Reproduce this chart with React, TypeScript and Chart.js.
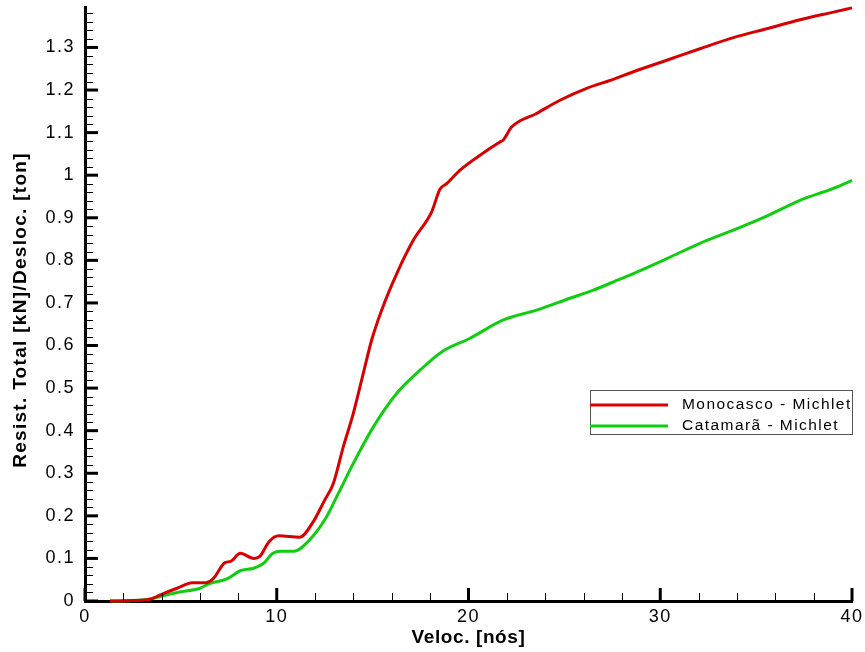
import React, { useEffect, useRef } from 'react';
import { Chart, registerables } from 'chart.js';

Chart.register(...registerables);

// ---- Data ----
const seriesLabels = ['Monocasco - Michlet', 'Catamarã - Michlet'];
const xTitle = 'Veloc. [nós]';
const yTitle = 'Resist. Total [kN]/Desloc. [ton]';

const monoSpeed = [1.3, 2.5, 3.4, 3.9, 4.8, 5.6, 6.3, 6.7, 7.3, 7.6, 8.1, 8.8, 9.1, 9.6, 10.1, 11.2, 11.9, 12.5, 12.95, 13.47, 13.99, 14.51, 14.95, 15.47, 16.26, 17.12, 18.08, 18.51, 18.86, 19.56, 20.6, 21.64, 21.8, 22.25, 23.55, 24.77, 26.16, 27.55, 28.6, 30.34, 32.07, 33.81, 35.55, 37.29, 39.03, 40];
const monoResist = [0, 0.001, 0.004, 0.014, 0.03, 0.043, 0.043, 0.053, 0.09, 0.093, 0.112, 0.1, 0.104, 0.139, 0.153, 0.15, 0.186, 0.237, 0.276, 0.362, 0.44, 0.534, 0.613, 0.683, 0.769, 0.847, 0.914, 0.967, 0.98, 1.012, 1.047, 1.078, 1.082, 1.113, 1.145, 1.176, 1.204, 1.225, 1.243, 1.27, 1.297, 1.323, 1.344, 1.365, 1.383, 1.393];

const cataSpeed = [1.3, 2.5, 3.4, 3.9, 4.8, 6.0, 6.5, 7.4, 8.1, 8.8, 9.3, 9.8, 10.2, 10.9, 11.7, 12.6, 13.04, 13.47, 13.82, 15.04, 16.26, 17.47, 18.6, 20.08, 21.82, 23.55, 25.29, 26.51, 27.9, 28.6, 30.34, 32.07, 33.81, 35.55, 37.29, 39.03, 40];
const cataResist = [0, 0.001, 0.005, 0.01, 0.02, 0.03, 0.041, 0.052, 0.071, 0.077, 0.088, 0.112, 0.117, 0.117, 0.143, 0.198, 0.237, 0.276, 0.308, 0.409, 0.488, 0.542, 0.585, 0.617, 0.66, 0.683, 0.711, 0.73, 0.756, 0.769, 0.804, 0.84, 0.871, 0.904, 0.941, 0.969, 0.988];

const xTickValues = [0, 10, 20, 30, 40];
const yTickValues = [0, 0.1, 0.2, 0.3, 0.4, 0.5, 0.6, 0.7, 0.8, 0.9, 1, 1.1, 1.2, 1.3];

const X_MIN = 0;
const X_MAX = 40;
const Y_MIN = 0;
const Y_MAX = 1.395;

const RED = '#d40000';
const GREEN = '#11cc11';
const FONT = '"Liberation Sans", Arial, Helvetica, sans-serif';

const toPoints = (xs: number[], ys: number[]) => xs.map((x, i) => ({ x, y: ys[i] }));

// Wider letter spacing for the scale tick labels (Tecplot-like text)
const tickSpacing = {
  id: 'tickSpacing',
  beforeDraw(chart: any) {
    chart.ctx.letterSpacing = '1.5px';
  },
  beforeDatasetsDraw(chart: any) {
    chart.ctx.letterSpacing = '0px';
  },
};

// Inward tick marks (major + minor)
const inwardTicks = {
  id: 'inwardTicks',
  afterDatasetsDraw(chart: any) {
    const { ctx, chartArea } = chart;
    const xs = chart.scales.x;
    const ys = chart.scales.y;
    ctx.save();
    ctx.strokeStyle = '#000';
    for (let i = 0; i <= 20; i++) {
      const v = X_MIN + i * 2;
      if (v > X_MAX + 1e-9) break;
      const major = i % 5 === 0;
      let px = xs.getPixelForValue(v);
      ctx.lineWidth = major ? 3 : 1;
      if (!major) px = Math.round(px) + 0.5;
      ctx.beginPath();
      ctx.moveTo(px, chartArea.bottom);
      ctx.lineTo(px, chartArea.bottom - (major ? 13 : 8));
      ctx.stroke();
    }
    for (let i = 0; i <= 100; i++) {
      const v = Y_MIN + i * 0.02;
      if (v > Y_MAX + 1e-9) break;
      const major = i % 5 === 0;
      let py = ys.getPixelForValue(v);
      ctx.lineWidth = major ? 3 : 1;
      if (!major) py = Math.round(py) + 0.5;
      ctx.beginPath();
      ctx.moveTo(chartArea.left, py);
      ctx.lineTo(chartArea.left + (major ? 13 : 8), py);
      ctx.stroke();
    }
    ctx.restore();
  },
};

// Axis titles and boxed legend
const annotations = {
  id: 'annotations',
  afterDraw(chart: any) {
    const { ctx, chartArea } = chart;
    ctx.save();
    ctx.fillStyle = '#000';
    ctx.textAlign = 'center';
    ctx.textBaseline = 'middle';
    // x title
    ctx.font = `bold 19px ${FONT}`;
    ctx.letterSpacing = '0.6px';
    ctx.fillText(xTitle, (chartArea.left + chartArea.right) / 2, 638);
    // y title
    ctx.save();
    ctx.translate(21, 310);
    ctx.rotate(-Math.PI / 2);
    ctx.font = `bold 19px ${FONT}`;
    ctx.letterSpacing = '1.3px';
    ctx.fillText(yTitle, 0, 0);
    ctx.restore();

    // legend
    const right = chartArea.right;
    const left = 590;
    const top = 390;
    const bottom = 434;
    ctx.strokeStyle = '#555';
    ctx.lineWidth = 1;
    ctx.strokeRect(left + 0.5, top + 0.5, right - left, bottom - top);
    const rowY = [405, 426];
    chart.data.datasets.forEach((ds: any, i: number) => {
      ctx.strokeStyle = ds.borderColor;
      ctx.lineWidth = 3;
      ctx.beginPath();
      ctx.moveTo(left, rowY[i]);
      ctx.lineTo(668, rowY[i]);
      ctx.stroke();
      ctx.fillStyle = '#000';
      ctx.font = `15.5px ${FONT}`;
      ctx.letterSpacing = '1.45px';
      ctx.textBaseline = 'middle';
      ctx.textAlign = 'left';
      ctx.fillText(ds.label, 682, rowY[i]);
    });
    ctx.restore();
  },
};

export default function App() {
  const canvasRef = useRef<HTMLCanvasElement | null>(null);

  useEffect(() => {
    const canvas = canvasRef.current;
    if (!canvas) return;
    const chart = new Chart(canvas, {
      type: 'line',
      data: {
        datasets: [
          {
            label: seriesLabels[0],
            data: toPoints(monoSpeed, monoResist),
            borderColor: RED,
            backgroundColor: RED,
            borderWidth: 3,
            pointRadius: 0,
            cubicInterpolationMode: 'monotone',
            clip: 6,
          },
          {
            label: seriesLabels[1],
            data: toPoints(cataSpeed, cataResist),
            borderColor: GREEN,
            backgroundColor: GREEN,
            borderWidth: 3,
            pointRadius: 0,
            cubicInterpolationMode: 'monotone',
            clip: 6,
          },
        ],
      },
      options: {
        responsive: false,
        animation: false,
        devicePixelRatio: 1,
        layout: { padding: { top: 7, right: 13, left: 0, bottom: 0 } },
        plugins: {
          legend: { display: false },
          tooltip: { enabled: false },
        },
        scales: {
          x: {
            type: 'linear',
            min: X_MIN,
            max: X_MAX,
            afterBuildTicks: (s: any) => {
              s.ticks = xTickValues.map((v) => ({ value: v }));
            },
            afterFit: (s: any) => {
              s.height = 51;
              s.paddingLeft = 0;
              s.paddingRight = 0;
            },
            grid: { display: false, drawTicks: false },
            border: { display: true, color: '#000', width: 3 },
            ticks: {
              color: '#000',
              font: { family: FONT, size: 18 },
              padding: 5,
              maxRotation: 0,
              autoSkip: false,
              callback: (v: any) => String(v),
            },
            title: { display: false },
          },
          y: {
            type: 'linear',
            min: Y_MIN,
            max: Y_MAX,
            afterBuildTicks: (s: any) => {
              s.ticks = yTickValues.map((v) => ({ value: v }));
            },
            afterFit: (s: any) => {
              s.width = 85;
              s.paddingTop = 0;
              s.paddingBottom = 0;
            },
            grid: { display: false, drawTicks: false },
            border: { display: true, color: '#000', width: 3 },
            ticks: {
              color: '#000',
              font: { family: FONT, size: 18 },
              padding: 10,
              autoSkip: false,
              callback: (v: any) => String(Math.round(Number(v) * 10) / 10),
            },
            title: { display: false },
          },
        },
      },
      plugins: [tickSpacing, inwardTicks, annotations],
    } as any);
    return () => chart.destroy();
  }, []);

  return (
    <div style={{ position: 'absolute', left: 0, top: 0, width: 865, height: 652, background: '#fff' }}>
      <canvas ref={canvasRef} width={865} height={652} style={{ display: 'block' }} />
    </div>
  );
}
